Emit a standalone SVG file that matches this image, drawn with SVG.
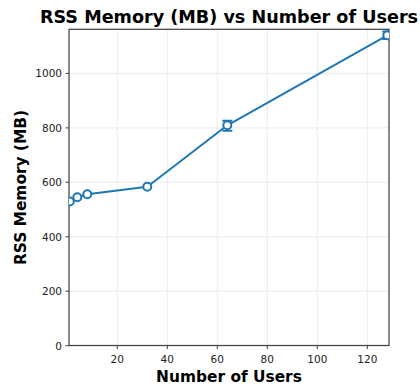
<svg xmlns="http://www.w3.org/2000/svg" width="420" height="387" viewBox="0 0 420 387">
<style>
.grid{stroke:#e6e6e6;stroke-width:0.8;fill:none}
.spine{stroke:#444;stroke-width:1.25;fill:none}
.tick{stroke:#444;stroke-width:1;fill:none}
.tl{font-family:"DejaVu Sans",sans-serif;font-size:10.5px;fill:#222}
.lab{font-family:"DejaVu Sans",sans-serif;font-weight:bold;font-size:15.4px;fill:#000}
.title{font-family:"DejaVu Sans",sans-serif;font-weight:bold;font-size:17.6px;fill:#000}
.series{stroke:#1f77b4;stroke-width:2;fill:none;stroke-linejoin:round}
.mk{stroke:#1f77b4;stroke-width:2;fill:#fff}
.err{stroke:#1f77b4;stroke-width:2;fill:none}
</style>
<defs>
<clipPath id="ax"><rect x="69" y="29.3" width="320" height="316.2"/></clipPath>
</defs>
<rect width="420" height="387" fill="#fff"/>
<g id="grid">
<path class="grid" d="M117.3 29.3V345.5M167.3 29.3V345.5M217.3 29.3V345.5M267.3 29.3V345.5M317.3 29.3V345.5M367.3 29.3V345.5"/>
<path class="grid" d="M69 345.7H389M69 291.2H389M69 236.8H389M69 182.3H389M69 127.9H389M69 73.4H389"/>
</g>
<g id="axes">
<rect class="spine" x="69" y="29.3" width="320" height="316.2"/>
<path class="tick" d="M117.3 345.5v3.5M167.3 345.5v3.5M217.3 345.5v3.5M267.3 345.5v3.5M317.3 345.5v3.5M367.3 345.5v3.5"/>
<path class="tick" d="M69 345.7h-3.5M69 291.2h-3.5M69 236.8h-3.5M69 182.3h-3.5M69 127.9h-3.5M69 73.4h-3.5"/>
<g class="tl" text-anchor="middle">
<text x="117.3" y="362.5">20</text>
<text x="167.3" y="362.5">40</text>
<text x="217.3" y="362.5">60</text>
<text x="267.3" y="362.5">80</text>
<text x="317.3" y="362.5">100</text>
<text x="367.3" y="362.5">120</text>
</g>
<g class="tl" text-anchor="end">
<text x="62" y="349.5">0</text>
<text x="62" y="295">200</text>
<text x="62" y="240.6">400</text>
<text x="62" y="186.1">600</text>
<text x="62" y="131.7">800</text>
<text x="62" y="77.2">1000</text>
</g>
</g>
<g id="series" clip-path="url(#ax)">
<polyline class="series" points="69.8,201.5 77.3,197.3 87.3,194.3 147.3,186.7 227.3,125.3 387.3,35.3"/>
<path class="err" d="M227.3 120.7V130.7M222.3 120.7H232.3M222.3 130.7H232.3M387.3 31.6V39M382.3 31.6H392.3M382.3 39H392.3"/>
<circle class="mk" cx="69.8" cy="201.5" r="4"/>
<circle class="mk" cx="77.3" cy="197.3" r="4"/>
<circle class="mk" cx="87.3" cy="194.3" r="4"/>
<circle class="mk" cx="147.3" cy="186.7" r="4"/>
<circle class="mk" cx="227.3" cy="125.3" r="4"/>
<circle class="mk" cx="387.3" cy="35.3" r="4"/>
</g>
<g id="labels">
<text class="title" x="229" y="23" text-anchor="middle">RSS Memory (MB) vs Number of Users</text>
<text class="lab" x="229" y="381.5" text-anchor="middle">Number of Users</text>
<text class="lab" transform="translate(26 187.5) rotate(-90)" text-anchor="middle">RSS Memory (MB)</text>
</g>
</svg>
